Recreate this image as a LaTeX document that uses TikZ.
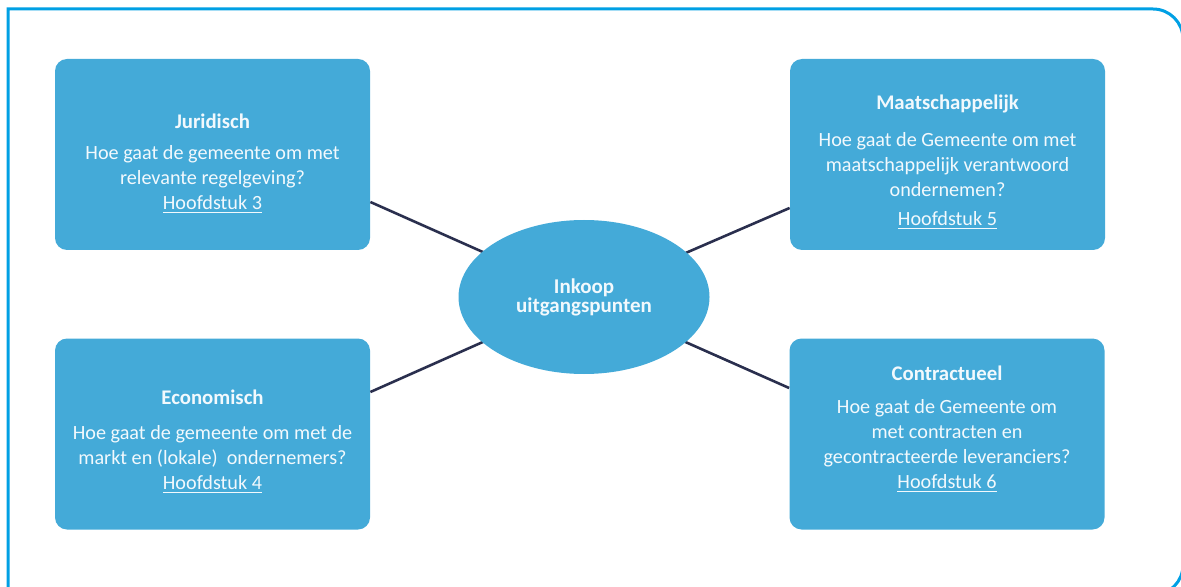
\documentclass[tikz,border=0pt]{standalone}
\usepackage{fontspec}
\setmainfont{Carlito}
\usepackage{tikz}
\usetikzlibrary{shapes.geometric, positioning, calc}
\definecolor{boxblue}{RGB}{68,170,216}
\definecolor{frameblue}{RGB}{0,160,228}
\definecolor{linknavy}{RGB}{42,47,78}
\definecolor{paletext}{RGB}{242,249,253}
\tikzset{
  topic/.style={rectangle, fill=boxblue, draw=none, rounded corners=6pt,
    minimum width=157.5pt, minimum height=95.5pt},
  topictext/.style={align=center, inner sep=0pt, text=paletext,
    font=\fontsize{10.1pt}{12.5pt}\selectfont},
  hub/.style={ellipse, fill=boxblue, draw=none, inner sep=0pt,
    minimum width=125.5pt, minimum height=77pt, align=center,
    text=paletext, font=\fontsize{10.5pt}{10pt}\selectfont\bfseries},
  link/.style={line width=1.3pt, color=linknavy},
  frame/.style={line width=1.5pt, color=frameblue}
}
\newcommand{\topichead}[1]{{\fontsize{10.4pt}{12.5pt}\selectfont\bfseries #1}}

\begin{document}
\begin{tikzpicture}[x=0.5pt, y=-0.5pt]
    \useasboundingbox (0,0) rectangle (1181,587);
    \clip (0,0) rectangle (1181,587);
    % Frame
    \draw[frame] (8,600) -- (8,9) [rounded corners=15pt] -- (1183,9) -- (1183,595) -- (900,595);
    % Boxes
    \node[topic] (jur) at (212.5,154.5) {};
    \node[topic] (maat) at (947.5,154.5) {};
    \node[topic] (eco) at (212.5,434) {};
    \node[topic] (con) at (947,434) {};
    % Links (behind the hub)
    \draw[link] ([yshift=-23.75pt]jur.east) -- (584,297);
    \draw[link] ([yshift=-26.75pt]maat.west) -- (584,297);
    \draw[link] ([yshift=21pt]eco.east) -- (584,297);
    \draw[link] ([yshift=23pt]con.west) -- (584,297);
    % Hub
    \node[hub] (hub) at (584,297) {Inkoop\\[-0.5pt]uitgangspunten};
    % Texts
    \node[topictext] (jurtext) at ([yshift=-4.5pt]jur.center) {\topichead{Juridisch}\\[3pt]
      Hoe gaat de gemeente om met\\ relevante regelgeving?\\ \underline{Hoofdstuk 3}};
    \node[topictext] (maattext) at ([yshift=-4pt]maat.center) {\topichead{Maatschappelijk}\\[6pt]
      Hoe gaat de Gemeente om met\\ maatschappelijk verantwoord\\ ondernemen?\\[2pt] \underline{Hoofdstuk 5}};
    \node[topictext] (ecotext) at ([yshift=-4pt]eco.center) {\topichead{Economisch}\\[5pt]
      Hoe gaat de gemeente om met de\\ markt en (lokale)~ ondernemers?\\ \underline{Hoofdstuk 4}};
    \node[topictext] (context) at ([yshift=2.5pt]con.center) {\topichead{Contractueel}\\[4pt]
      Hoe gaat de Gemeente om\\ met contracten en\\ gecontracteerde leveranciers?\\ \underline{Hoofdstuk 6}};
\end{tikzpicture}
\end{document}
